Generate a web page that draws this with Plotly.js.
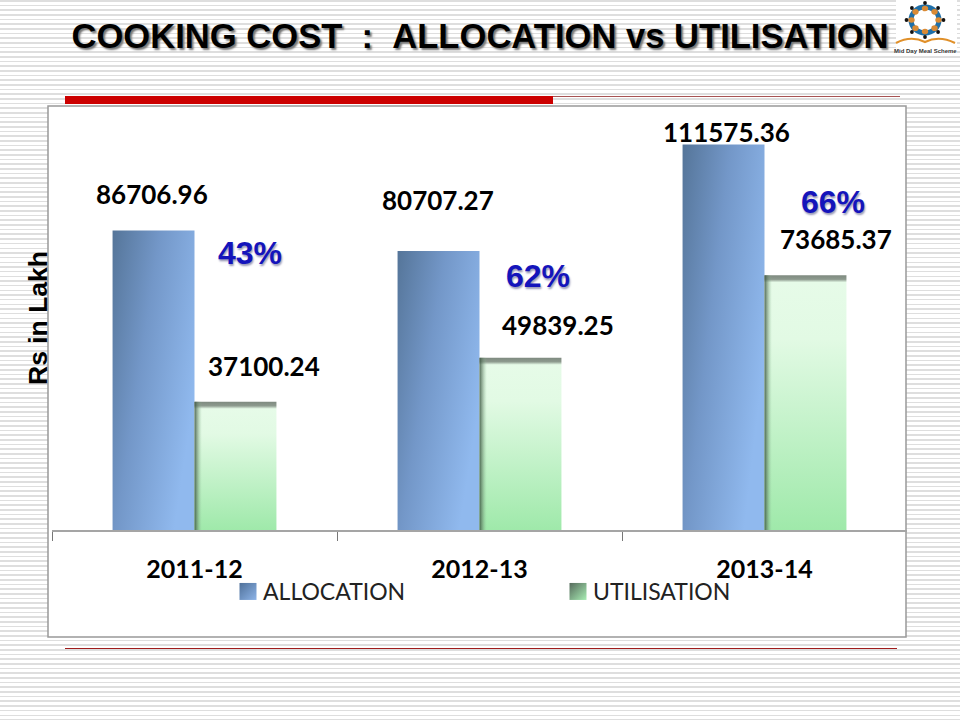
<!DOCTYPE html>
<html><head><meta charset="utf-8">
<script src="https://cdn.plot.ly/plotly-3.0.1.min.js"></script>
<style>
html,body{margin:0;padding:0;width:960px;height:720px;overflow:hidden;
background:repeating-linear-gradient(to bottom,#dedede 0,#dedede 1.6px,#ffffff 1.6px,#ffffff 4.67px);}
#chart{width:960px;height:720px}
</style></head><body><div id="chart"></div>
<script>
const years = ['2011-12','2012-13','2013-14'];
const allocation = [86706.96,80707.27,111575.36];
const utilisation = [37100.24,49839.25,73685.37];
const percents = ['43%','62%','66%'];
const chartTitle = 'COOKING COST\u00a0\u00a0:\u00a0\u00a0ALLOCATION vs UTILISATION';

const W=960,H=720,L=52,R=53,T=106,B=190;
const px=x=>(x-L)/(W-L-R), py=y=>(H-B-y)/(H-T-B);
const allocSpots=[[152,194],[438,200],[726,132]];
const utilSpots=[[264,366],[558,325],[836,239]];
const pctSpots=[[250,253],[538,276],[833,202]];
const numFont={family:'Lato, Carlito, sans-serif',size:26,color:'#000',weight:700};
const pctFont={family:'Liberation Sans, Arial, sans-serif',size:32,color:'#1414bb',weight:700,shadow:'1px 2px 2px #9a9ab8'};

function note(text,spot,font){return {text,x:px(spot[0]),y:py(spot[1]),xref:'paper',yref:'paper',showarrow:false,xanchor:'center',yanchor:'middle',font};}
const annotations=[
 ...allocation.map((v,i)=>note(v.toFixed(2),allocSpots[i],numFont)),
 ...utilisation.map((v,i)=>note(v.toFixed(2),utilSpots[i],numFont)),
 ...percents.map((t,i)=>note(t,pctSpots[i],pctFont)),
 note('Mid Day Meal Scheme',[925,51],{family:'Liberation Sans, Arial, sans-serif',size:6,color:'#333',weight:700})
];

function rect(x0,y0,x1,y1,o){return Object.assign({type:'rect',xref:'paper',yref:'paper',x0:px(x0),x1:px(x1),y0:py(y0),y1:py(y1),line:{width:0},layer:'below'},o);}
function oval(cx,cy,rx,ry,o){return Object.assign({type:'circle',xref:'paper',yref:'paper',x0:px(cx-rx),x1:px(cx+rx),y0:py(cy-ry),y1:py(cy+ry),line:{width:0},layer:'above'},o);}
const shapes=[
 rect(48,106,906,637,{fillcolor:'#fff',line:{color:'#999',width:1.5}}),
 rect(65,96,553,104,{fillcolor:'#cc0000',layer:'above'}),
 rect(553,96,900,96.8,{fillcolor:'#8a1a1a',layer:'above'}),
 rect(65,648,897,649,{fillcolor:'#a01c1c',layer:'above'}),
 rect(896,0,957,56,{fillcolor:'#fff',layer:'below'}),
 oval(925,20,14,13,{line:{color:'#1f6fa8',width:5}})
];
for(let k=0;k<8;k++){
 const a=k*Math.PI/4+Math.PI/2;
 shapes.push(oval(925+13.5*Math.cos(a),20-11.5*Math.sin(a),3.2,2.8,{fillcolor:'#d98a35'}));
 shapes.push(oval(925+18.5*Math.cos(a),20-17*Math.sin(a),1.9,1.9,{fillcolor:'#111'}));
}
shapes.push({type:'path',xref:'paper',yref:'paper',layer:'above',line:{color:'#e0902a',width:2.2},
 path:`M ${px(896)} ${py(43)} Q ${px(911)} ${py(35)} ${px(925)} ${py(42)} Q ${px(939)} ${py(35)} ${px(955)} ${py(43)}`});

const traces=[
 {type:'bar',name:'ALLOCATION',x:years,y:allocation,marker:{color:'#7a9fd2',line:{width:0}}},
 {type:'bar',name:'UTILISATION',x:years,y:utilisation,marker:{color:'#a6ecb0',line:{width:0}}}
];
const layout={
 width:W,height:H,autosize:false,
 margin:{l:L,r:R,t:T,b:B,pad:0},
 paper_bgcolor:'rgba(0,0,0,0)',plot_bgcolor:'rgba(0,0,0,0)',
 font:{family:'Lato, sans-serif',color:'#000'},
 title:{text:chartTitle,x:480/W,xanchor:'center',y:1-36/H,yanchor:'middle',
  font:{family:'Liberation Sans, Arial, sans-serif',size:34.6,weight:700,color:'#000',shadow:'2px 2px 2px #777'}},
 barmode:'group',bargap:0.425,bargroupgap:0,
 xaxis:{type:'category',tickson:'boundaries',ticks:'outside',ticklen:9,tickcolor:'#777',tickwidth:1,
  showline:true,linecolor:'#a5a5a5',linewidth:1.5,showgrid:false,fixedrange:true,
  ticklabelstandoff:16,tickfont:{family:'Lato, sans-serif',size:25,weight:700,color:'#000'}},
 yaxis:{range:[0,122700],showline:false,showgrid:false,zeroline:false,showticklabels:false,ticks:'',fixedrange:true,
  title:{text:'Rs in Lakh',standoff:0,font:{family:'Liberation Sans, Arial, sans-serif',size:26.5,weight:700,color:'#000'}}},
 showlegend:true,
 legend:{orientation:'h',x:px(228),y:py(570),xanchor:'left',yanchor:'top',entrywidth:285,entrywidthmode:'pixels',
  bgcolor:'rgba(0,0,0,0)',font:{family:'Lato, sans-serif',size:23,color:'#222'},traceorder:'normal'},
 annotations,shapes
};
Plotly.newPlot('chart',traces,layout,{displayModeBar:false,staticPlot:true}).then(gd=>{
 const svg=gd.querySelector('svg.main-svg');
 const NS='http://www.w3.org/2000/svg';
 const defs=document.createElementNS(NS,'defs');svg.insertBefore(defs,svg.firstChild);
 const grad=(id,c,stops)=>{const g=document.createElementNS(NS,'linearGradient');g.id=id;
  ['x1','y1','x2','y2'].forEach((k,i)=>g.setAttribute(k,c[i]));
  stops.forEach(s=>{const e=document.createElementNS(NS,'stop');e.setAttribute('offset',s[0]);e.setAttribute('stop-color',s[1]);e.setAttribute('stop-opacity',s[2]==null?1:s[2]);g.appendChild(e);});
  defs.appendChild(g);};
 grad('gBlue',[0,0,1,0.55],[[0,'#557599'],[0.45,'#7397c8'],[1,'#90b9ee']]);
 grad('gShade',[0,0,1,0],[[0,'#36503c',0.85],[0.035,'#5d7a62',0.55],[0.09,'#8fbf98',0]]);
 grad('gSwBlue',[0,0,1,1],[[0,'#4f7099'],[1,'#8db4e8']]);
 grad('gSwGreen',[0,0,1,1],[[0,'#566a5c'],[1,'#a8eeb4']]);
 const groups=gd.querySelectorAll('.barlayer .trace');
 groups[0].querySelectorAll('.point path').forEach(p=>{p.style.fill='url(#gBlue)';});
 groups[1].querySelectorAll('.point path').forEach((p,i)=>{
  const h=p.getBBox().height,id='gGreen'+i,f=v=>(v/h).toFixed(4);
  grad(id,[0,0,0,1],[[0,'#7f8a80'],[f(4),'#8d9a8e'],[f(7),'#e6fbe8'],[f(h*0.25),'#e2fae4'],[1,'#9fe9aa']]);
  p.style.fill='url(#'+id+')';
  const o=p.cloneNode(true);o.style.fill='url(#gShade)';p.parentNode.appendChild(o);
 });
 gd.querySelectorAll('.legend .traces').forEach((it,i)=>{
  const sw=it.querySelector('.legendpoints path');
  if(sw){sw.style.fill='url(#'+(i?'gSwGreen':'gSwBlue')+')';sw.style.stroke='none';sw.setAttribute('d','M8.5,8.5H-8.5V-8.5H8.5Z');}
  const t=it.querySelector('.legendtext');if(t){t.setAttribute('x',35);}
 });
 const yt=gd.querySelector('.ytitle');
 if(yt){yt.setAttribute('transform','translate(5,0) '+(yt.getAttribute('transform')||''));}
 const tk=gd.querySelectorAll('path.xtick, .xaxislayer-above path.ticks, path.xtick.ticks');
 if(tk.length>3){tk[tk.length-1].style.display='none';}
});
</script></body></html>
